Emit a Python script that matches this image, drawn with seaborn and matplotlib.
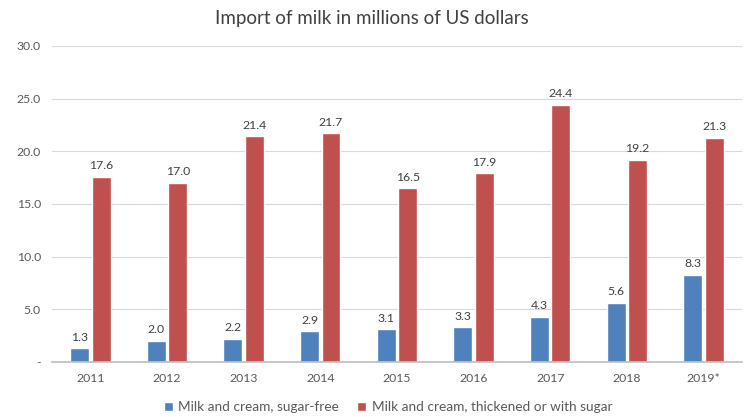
import matplotlib
matplotlib.use("Agg")
import matplotlib.pyplot as plt
import seaborn as sns
import pandas as pd

years = ["2011", "2012", "2013", "2014", "2015", "2016", "2017", "2018", "2019*"]
sugar_free = [1.3, 2.0, 2.2, 2.9, 3.1, 3.3, 4.3, 5.6, 8.3]
thickened = [17.6, 17.0, 21.4, 21.7, 16.5, 17.9, 24.4, 19.2, 21.3]
series_names = ["Milk and cream, sugar-free", "Milk and cream, thickened or with sugar"]
colors = ["#4F81BD", "#C0504D"]

df = pd.DataFrame({
    "year": years * 2,
    "value": sugar_free + thickened,
    "series": [series_names[0]] * len(years) + [series_names[1]] * len(years),
})

sns.set_theme(style="white")
plt.rcParams["font.family"] = ["Lato", "DejaVu Sans"]

fig = plt.figure(figsize=(7.44, 4.17), dpi=100)
ax = fig.add_axes([0.07, 0.132, 0.927, 0.758])

sns.barplot(data=df, x="year", y="value", hue="series", palette=colors,
            width=0.56, gap=0.12, ax=ax, legend=True, saturation=1)

for cont in ax.containers:
    ax.bar_label(cont, fmt="%.1f", padding=4, fontsize=8.8, color="#404040")

ax.set_ylim(0, 30)
ax.set_yticks([0, 5, 10, 15, 20, 25, 30])
ax.set_yticklabels(["-", "5.0", "10.0", "15.0", "20.0", "25.0", "30.0"])
ax.yaxis.grid(True, color="#D9D9D9", linewidth=0.8)
ax.set_axisbelow(True)
for s in ["top", "right", "left"]:
    ax.spines[s].set_visible(False)
ax.spines["bottom"].set_color("#BFBFBF")
ax.tick_params(axis="both", labelsize=8.8, colors="#595959", length=0, pad=8)
ax.set_xlabel("")
ax.set_ylabel("")
ax.set_xlim(-0.5, len(years) - 0.5)

fig.suptitle("Import of milk in millions of US dollars", fontsize=13.5, color="#404040", y=0.975)

ax.legend(loc="upper center", bbox_to_anchor=(0.487, -0.085), ncol=2, frameon=False,
          fontsize=9.8, handlelength=0.7, handleheight=0.7, columnspacing=1.3,
          labelcolor="#595959", handletextpad=0.4)

fig.savefig("out.png", dpi=100)
